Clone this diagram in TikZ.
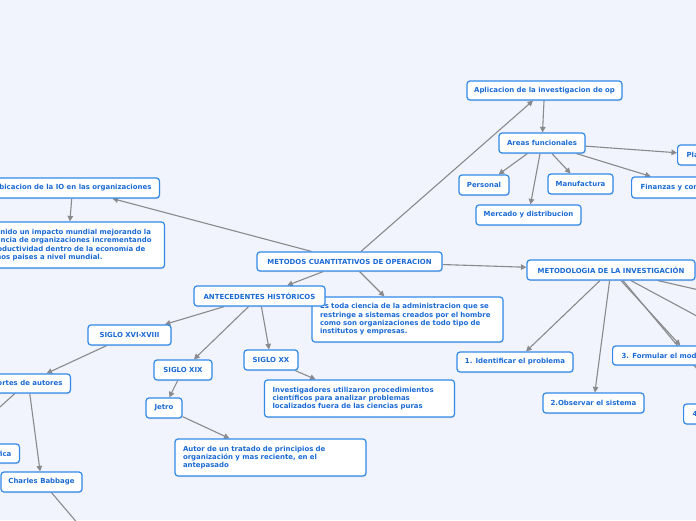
\documentclass[tikz,border=0pt]{standalone}
\usepackage{fontspec}
\setsansfont{DejaVu Sans}
\usetikzlibrary{arrows.meta,shadows}
\definecolor{bgc}{HTML}{F1F4FC}
\definecolor{bord}{HTML}{3189E8}
\definecolor{txt}{HTML}{1A6AD6}
\definecolor{edgec}{HTML}{8A8A8E}
\pgfdeclarelayer{bg}
\pgfdeclarelayer{edges}
\pgfsetlayers{bg,edges,main}
\begin{document}
\begin{tikzpicture}[x=1pt,y=-1pt,
  box/.style={draw=bord, fill=white, line width=1.2pt, rounded corners=3pt, text=txt,
    font=\sffamily\bfseries\fontsize{6.95}{8.4}\selectfont, inner sep=0pt,
    minimum height=20pt,
    drop shadow={shadow xshift=0.7pt,shadow yshift=-1pt,opacity=0.22}},
  note/.style={box, align=left, inner xsep=8pt, text width=#1},
  conn/.style={draw=edgec, line width=1.1pt, -{Triangle[length=5.5pt,width=5.5pt]}}
]
\useasboundingbox (0,0) rectangle (696,520);
\begin{pgfonlayer}{bg}
\fill[bgc] (0,0) rectangle (696,520);
\end{pgfonlayer}
\clip (0,0) rectangle (696,520);

% right upper branch
\node[box,minimum width=155pt,minimum height=19pt] (aplic) at (544.5,90.5) {Aplicacion de la investigacion de op};
\node[box,minimum width=86pt] (areas) at (542,143) {Areas funcionales};
\node[box,inner xsep=9pt,anchor=west] (plan) at (677,155) {Planeacion};
\node[box,minimum width=50pt] (personal) at (484,185) {Personal};
\node[box,minimum width=65pt] (manuf) at (580.5,184) {Manufactura};
\node[box,inner xsep=9pt,minimum height=21pt,anchor=west] (finanzas) at (631,187.5) {Finanzas y contabilidad};
\node[box,minimum width=105pt] (mercado) at (528.5,215) {Mercado y distribucion};

% left upper branch
\node[box,inner xsep=8pt,anchor=east] (ubic) at (160,188) {Ubicacion de la IO en las organizaciones};
\node[note=177pt,minimum height=46pt] (impacto) at (68,245) {Ha tenido un impacto mundial mejorando la\\eficiencia de organizaciones incrementando\\la productividad dentro de la economía de\\algunos paises a nivel mundial.};

% center
\node[box,minimum width=185pt,minimum height=19pt] (metodos) at (349.5,261.5) {METODOS CUANTITATIVOS DE OPERACION};
\node[note=175pt,minimum height=45pt] (estoda) at (407.5,319.5) {Es toda ciencia de la administracion que se\\restringe a sistemas creados por el hombre\\como son organizaciones de todo tipo de\\institutos y empresas.};
\node[box,minimum width=131pt] (antec) at (259.5,296) {ANTECEDENTES HISTÓRICOS};

% history branch
\node[box,minimum width=83pt] (s16) at (129.5,335) {SIGLO XVI-XVIII};
\node[box,minimum width=58pt] (s19) at (183,370) {SIGLO XIX};
\node[box,minimum width=54pt] (s20) at (271,360) {SIGLO XX};
\node[box,minimum width=36pt] (jetro) at (164,408) {Jetro};
\node[note=174pt,minimum height=37pt] (invest) at (359.5,398.5) {Investigadores utilizaron procedimientos\\científicos para analizar problemas\\localizados fuera de las ciencias puras};
\node[note=175pt,minimum height=37pt] (autor) at (270.5,457.5) {Autor de un tratado de principios de\\organización y mas reciente, en el\\antepasado};
\node[box,inner xsep=8pt,minimum height=19pt,anchor=east] (aportes) at (71,383.5) {Aportes de autores};
\node[box,inner xsep=8pt,minimum height=19pt,anchor=east] (cient) at (20,453.5) {Administracion cientifica};
\node[box,minimum width=81pt] (charles) at (41.5,482) {Charles Babbage};
\coordinate (offA) at (-20,425);
\coordinate (offB) at (85,532);

% methodology branch
\node[box,minimum width=168pt] (metodologia) at (611,270) {METODOLOGIA DE LA INVESTIGACIÓN};
\node[box,minimum width=116pt] (ident) at (515,362) {1. Identificar el problema};
\node[box,minimum width=101pt] (observar) at (593.5,403) {2.Observar el sistema};
\node[box,inner xsep=9pt,minimum height=19pt,anchor=west] (formular) at (612,355.5) {3. Formular el modelo matemático};
\node[box,inner xsep=9pt,anchor=west] (four) at (683,414) {4. Verificar el modelo};
\coordinate (off5) at (760,350);
\coordinate (off6) at (760,304);

\begin{pgfonlayer}{edges}
\draw[conn] (aplic) -- (areas);
\draw[conn] (areas) -- (plan);
\draw[conn] (areas) -- (personal);
\draw[conn] (areas) -- (mercado);
\draw[conn] (areas) -- (manuf);
\draw[conn] (areas) -- (finanzas);
\draw[conn] (metodos) -- (aplic);
\draw[conn] (metodos) -- (ubic);
\draw[conn] (ubic) -- (impacto);
\draw[conn] (metodos) -- (metodologia);
\draw[conn] (metodos) -- (antec);
\draw[conn] (metodos) -- (estoda);
\draw[conn] (antec) -- (s16);
\draw[conn] (antec) -- (s19);
\draw[conn] (antec) -- (s20);
\draw[conn] (s16) -- (aportes);
\draw[conn] (s19) -- (jetro);
\draw[conn] (s20) -- (invest);
\draw[conn] (jetro) -- (autor);
\draw[conn] ([xshift=5pt]aportes.south) -- (charles);
\draw[conn] ([xshift=-10pt]aportes.south) -- (offA);
\draw[conn] ([xshift=10pt]charles.south) -- (offB);
\draw[conn] (metodologia) -- (ident);
\draw[conn] (metodologia) -- (observar);
\draw[conn] ([xshift=10pt]metodologia.south) -- (formular);
\draw[conn] ([xshift=12pt]metodologia.south) -- (four);
\draw[conn] ([xshift=20pt]metodologia.south) -- (off5);
\draw[conn] ([xshift=47pt]metodologia.south) -- (off6);
\end{pgfonlayer}
\end{tikzpicture}
\end{document}
